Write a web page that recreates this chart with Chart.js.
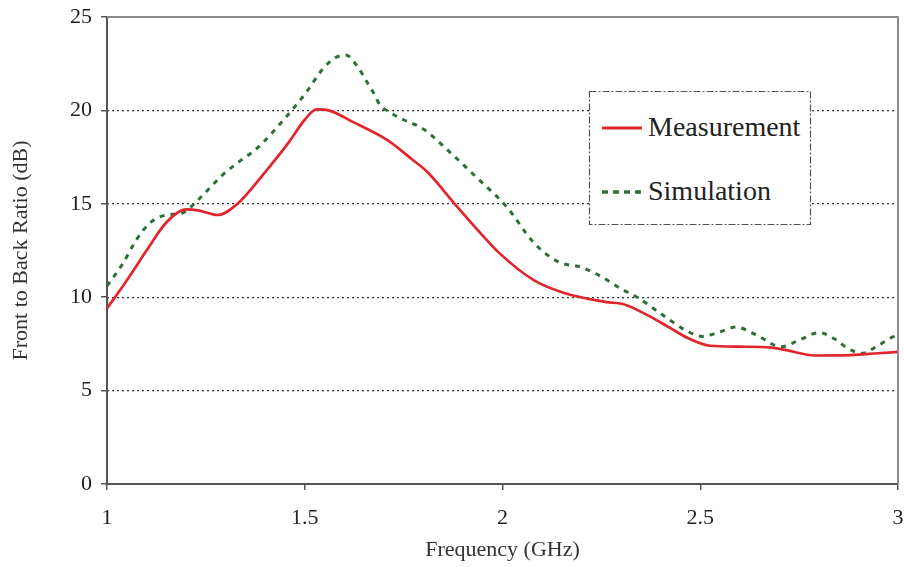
<!DOCTYPE html>
<html>
<head>
<meta charset="utf-8">
<title>Front to Back Ratio</title>
<script src="https://cdn.jsdelivr.net/npm/chart.js@4.4.1/dist/chart.umd.min.js"></script>
<style>
    html, body { margin: 0; padding: 0; background: #fff; }
    #wrap { position: relative; width: 904px; height: 567px; }
    #legend { position: absolute; left: 0; top: 0; pointer-events: none; }
    #legend text { font-family: 'Liberation Serif', 'Times New Roman', serif; font-size: 28px; fill: #222; }
</style>
</head>
<body>
<div id="wrap">
    <canvas id="chart" width="904" height="567"></canvas>
    <svg id="legend" width="904" height="567">
        <rect x="589.5" y="91.5" width="221" height="133" fill="#fff" stroke="#555" stroke-width="1.2" stroke-dasharray="7 2 2 2"></rect>
        <line x1="602" y1="128" x2="642" y2="128" stroke="#e0262c" stroke-width="3"></line>
        <text x="648" y="136">Measurement</text>
        <line x1="602" y1="192" x2="642" y2="192" stroke="#2f6e3a" stroke-width="3.5" stroke-dasharray="6 5"></line>
        <text x="648" y="200">Simulation</text>
    </svg>
</div>
<script>
// values
const measFreq = [1.00, 1.05, 1.10, 1.15, 1.20, 1.23, 1.28, 1.33, 1.40, 1.46, 1.50, 1.53, 1.56, 1.62, 1.71, 1.77, 1.81, 1.885, 1.95, 1.99, 2.08, 2.16, 2.26, 2.31, 2.37, 2.42, 2.47, 2.525, 2.60, 2.68, 2.72, 2.79, 2.88, 2.95, 3.00];
const measDb   = [9.4, 10.9, 12.5, 14.0, 14.7, 14.65, 14.4, 15.0, 16.7, 18.3, 19.5, 20.05, 20.0, 19.4, 18.4, 17.4, 16.7, 14.85, 13.3, 12.4, 10.9, 10.2, 9.75, 9.6, 9.0, 8.4, 7.8, 7.4, 7.35, 7.3, 7.15, 6.88, 6.9, 7.0, 7.07];

const simFreq = [1.00, 1.04, 1.075, 1.11, 1.15, 1.19, 1.23, 1.26, 1.29, 1.34, 1.37, 1.40, 1.455, 1.505, 1.545, 1.575, 1.605, 1.635, 1.655, 1.675, 1.69, 1.715, 1.75, 1.80, 1.86, 1.935, 2.01, 2.08, 2.14, 2.20, 2.25, 2.30, 2.34, 2.405, 2.47, 2.505, 2.55, 2.59, 2.64, 2.705, 2.75, 2.80, 2.845, 2.87, 2.91, 2.945, 2.98, 3.00];
const simDb   = [10.6, 11.8, 13.1, 14.0, 14.4, 14.5, 15.2, 15.85, 16.5, 17.35, 17.8, 18.4, 19.7, 21.0, 22.2, 22.8, 22.95, 22.3, 21.6, 20.9, 20.3, 19.9, 19.5, 19.0, 17.9, 16.4, 14.85, 12.9, 11.9, 11.6, 11.1, 10.45, 10.0, 9.05, 8.15, 7.9, 8.15, 8.4, 8.0, 7.35, 7.7, 8.1, 7.7, 7.3, 7.0, 7.35, 7.8, 8.0];

const xTicks = [1, 1.5, 2, 2.5, 3];
const yTicks = [0, 5, 10, 15, 20, 25];

const serif = 'Liberation Serif';
const toPoints = (xs, ys) => xs.map((x, i) => ({ x: x, y: ys[i] }));
const setTicks = list => scale => { scale.ticks = list.map(v => ({ value: v })); };

// gray frame on top and right of the plot area
const frame = {
    id: 'frame',
    afterDraw(chart) {
        const { ctx, chartArea: a } = chart;
        ctx.save();
        ctx.strokeStyle = '#8a8a8a';
        ctx.lineWidth = 2;
        ctx.beginPath();
        ctx.moveTo(a.left, a.top);
        ctx.lineTo(a.right, a.top);
        ctx.lineTo(a.right, a.bottom);
        ctx.stroke();
        ctx.restore();
    }
};

new Chart(document.getElementById('chart'), {
    type: 'line',
    data: {
        datasets: [
            {
                label: 'Measurement',
                data: toPoints(measFreq, measDb),
                borderColor: '#e0262c',
                borderWidth: 2.7,
                pointRadius: 0,
                cubicInterpolationMode: 'monotone'
            },
            {
                label: 'Simulation',
                data: toPoints(simFreq, simDb),
                borderColor: '#2f6e3a',
                borderWidth: 3,
                borderDash: [5, 6],
                pointRadius: 0,
                cubicInterpolationMode: 'monotone'
            }
        ]
    },
    options: {
        responsive: false,
        animation: false,
        devicePixelRatio: 1,
        layout: { padding: { top: 17, right: 6, left: 0, bottom: 0 } },
        plugins: {
            legend: { display: false },
            tooltip: { enabled: false }
        },
        scales: {
            x: {
                type: 'linear',
                min: 1,
                max: 3,
                afterBuildTicks: setTicks(xTicks),
                afterFit: s => { s.height = 83; s.paddingLeft = 0; s.paddingRight = 0; },
                ticks: {
                    callback: v => String(v),
                    color: '#222',
                    font: { family: serif, size: 22 },
                    padding: 15,
                    maxRotation: 0
                },
                grid: { drawOnChartArea: false, tickLength: 6, color: '#555', lineWidth: 1.5 },
                border: { color: '#555', width: 2 },
                title: {
                    display: true,
                    text: 'Frequency (GHz)',
                    color: '#333',
                    font: { family: serif, size: 22 },
                    padding: { top: 0, bottom: 4 }
                }
            },
            y: {
                type: 'linear',
                position: 'left',
                min: 0,
                max: 25,
                afterBuildTicks: setTicks(yTicks),
                afterFit: s => { s.width = 107; s.paddingTop = 0; s.paddingBottom = 0; },
                ticks: {
                    color: '#222',
                    font: { family: serif, size: 22 },
                    padding: 9
                },
                grid: { drawOnChartArea: false, tickLength: 6, color: '#555', lineWidth: 1.5 },
                border: { color: '#555', width: 2 },
                title: {
                    display: true,
                    text: 'Front to Back Ratio (dB)',
                    color: '#333',
                    font: { family: serif, size: 22 },
                    padding: { top: 8, bottom: 0 }
                }
            },
            yGrid: {
                type: 'linear',
                position: 'left',
                min: 0,
                max: 25,
                afterBuildTicks: setTicks(yTicks),
                afterFit: s => { s.width = 0; s.paddingTop = 0; s.paddingBottom = 0; },
                ticks: { display: false },
                grid: {
                    drawTicks: false,
                    lineWidth: 1.3,
                    color: c => (c.tick && (c.tick.value === 0 || c.tick.value === 25)) ? 'rgba(0,0,0,0)' : '#333'
                },
                border: { display: false, dash: [2, 3] }
            }
        }
    },
    plugins: [frame]
});
</script>
</body>
</html>
